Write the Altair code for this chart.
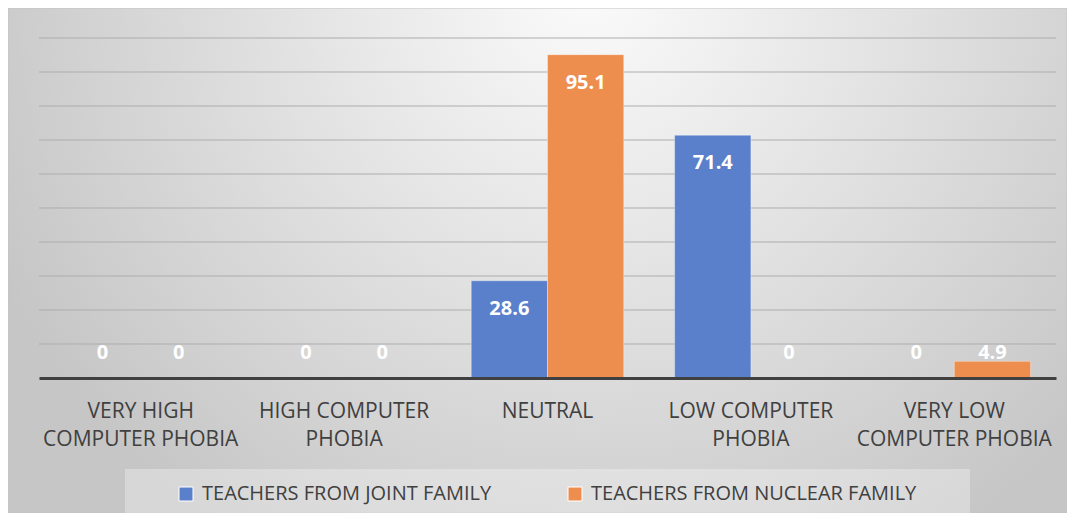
import altair as alt
import pandas as pd

categories = ["VERY HIGH COMPUTER PHOBIA", "HIGH COMPUTER PHOBIA", "NEUTRAL",
              "LOW COMPUTER PHOBIA", "VERY LOW COMPUTER PHOBIA"]
series = ["TEACHERS FROM JOINT FAMILY", "TEACHERS FROM NUCLEAR FAMILY"]
joint = [0, 0, 28.6, 71.4, 0]
nuclear = [0, 0, 95.1, 0, 4.9]
grid_values = [10, 20, 30, 40, 50, 60, 70, 80, 90, 100]
colors = ["#5a7fcb", "#ee8e4e"]

rows = []
for i, c in enumerate(categories):
    rows.append({"category": c, "series": series[0], "value": joint[i]})
    rows.append({"category": c, "series": series[1], "value": nuclear[i]})
df = pd.DataFrame(rows)

W, H = 1017, 340
FONT = "Open Sans"

label_expr = ("length(split(datum.label, ' ')) > 2 ? "
              "[join(slice(split(datum.label, ' '), 0, 2), ' '), join(slice(split(datum.label, ' '), 2), ' ')] "
              ": datum.label")

yscale = alt.Scale(domain=[0, 100])

bg_grad = {
    "gradient": "radial",
    "x1": 0.55, "y1": 0.24, "r1": 0,
    "x2": 0.55, "y2": 0.24, "r2": 0.62,
    "stops": [{"offset": 0, "color": "#fbfbfb"}, {"offset": 1, "color": "#c6c6c6"}],
}

one = pd.DataFrame({"a": [0]})
bg = alt.Chart(one).mark_rect(fill=bg_grad, stroke="#c4c4c4", strokeWidth=1).encode(
    x=alt.value(-31), x2=alt.value(W + 11), y=alt.value(-30), y2=alt.value(H + 135)
)

legend_box = alt.Chart(one).mark_rect(fill="#ffffff", fillOpacity=0.3).encode(
    x=alt.value(86), x2=alt.value(931), y=alt.value(431), y2=alt.value(477)
)

grid = alt.Chart(pd.DataFrame({"tick": grid_values})).mark_rule(
    color="#adadad", strokeWidth=1
).encode(
    y=alt.Y("tick:Q", scale=yscale, axis=None),
    x=alt.value(0), x2=alt.value(W),
)

xenc = alt.X(
    "category:N", sort=categories, title=None,
    scale=alt.Scale(paddingInner=0.25, paddingOuter=0.125),
    axis=alt.Axis(
        labelExpr=label_expr, labelAngle=0, ticks=False, domainColor="#404040",
        domainWidth=3, labelFont=FONT, labelFontSize=21, labelColor="#404040",
        labelPadding=22, labelLineHeight=28, labelLimit=300, zindex=1,
    ),
)
xoff = alt.XOffset("series:N", sort=series)

bars = alt.Chart(df).mark_bar(stroke="#ffffff", strokeOpacity=0.35, strokeWidth=1).encode(
    x=xenc, xOffset=xoff,
    y=alt.Y("value:Q", scale=yscale, axis=None),
    color=alt.Color(
        "series:N", sort=series,
        scale=alt.Scale(domain=series, range=colors),
        legend=alt.Legend(
            title=None, orient="none", legendX=137, legendY=446, direction="horizontal",
            symbolType="square", symbolSize=196, symbolStrokeColor="#ffffff",
            symbolStrokeWidth=1, labelFont=FONT, labelFontSize=20, labelColor="#404040",
            labelOffset=6, columnPadding=73, labelLimit=500, padding=0, zindex=1,
        ),
    ),
)

text_big = alt.Chart(df).transform_filter("datum.value >= 10").mark_text(
    color="#ffffff", fontWeight="bold", font=FONT, fontSize=20, baseline="middle", dy=28
).encode(
    x=alt.X("category:N", sort=categories), xOffset=xoff,
    y=alt.Y("value:Q", scale=yscale),
    text=alt.Text("value:Q"),
)

text_small = alt.Chart(df).transform_filter("datum.value < 10").mark_text(
    color="#ffffff", fontWeight="bold", font=FONT, fontSize=20, baseline="middle"
).encode(
    x=alt.X("category:N", sort=categories), xOffset=xoff,
    y=alt.value(H - 25),
    text=alt.Text("value:Q"),
)

chart = alt.layer(bg, legend_box, grid, bars, text_big, text_small).properties(
    width=W, height=H,
    autosize=alt.AutoSizeParams(type="none"),
    padding={"left": 31, "top": 30, "right": 11, "bottom": 135},
    background="#ffffff",
).configure_view(stroke=None)

chart.save("out.html", embed_options={"renderer": "svg", "actions": False})
